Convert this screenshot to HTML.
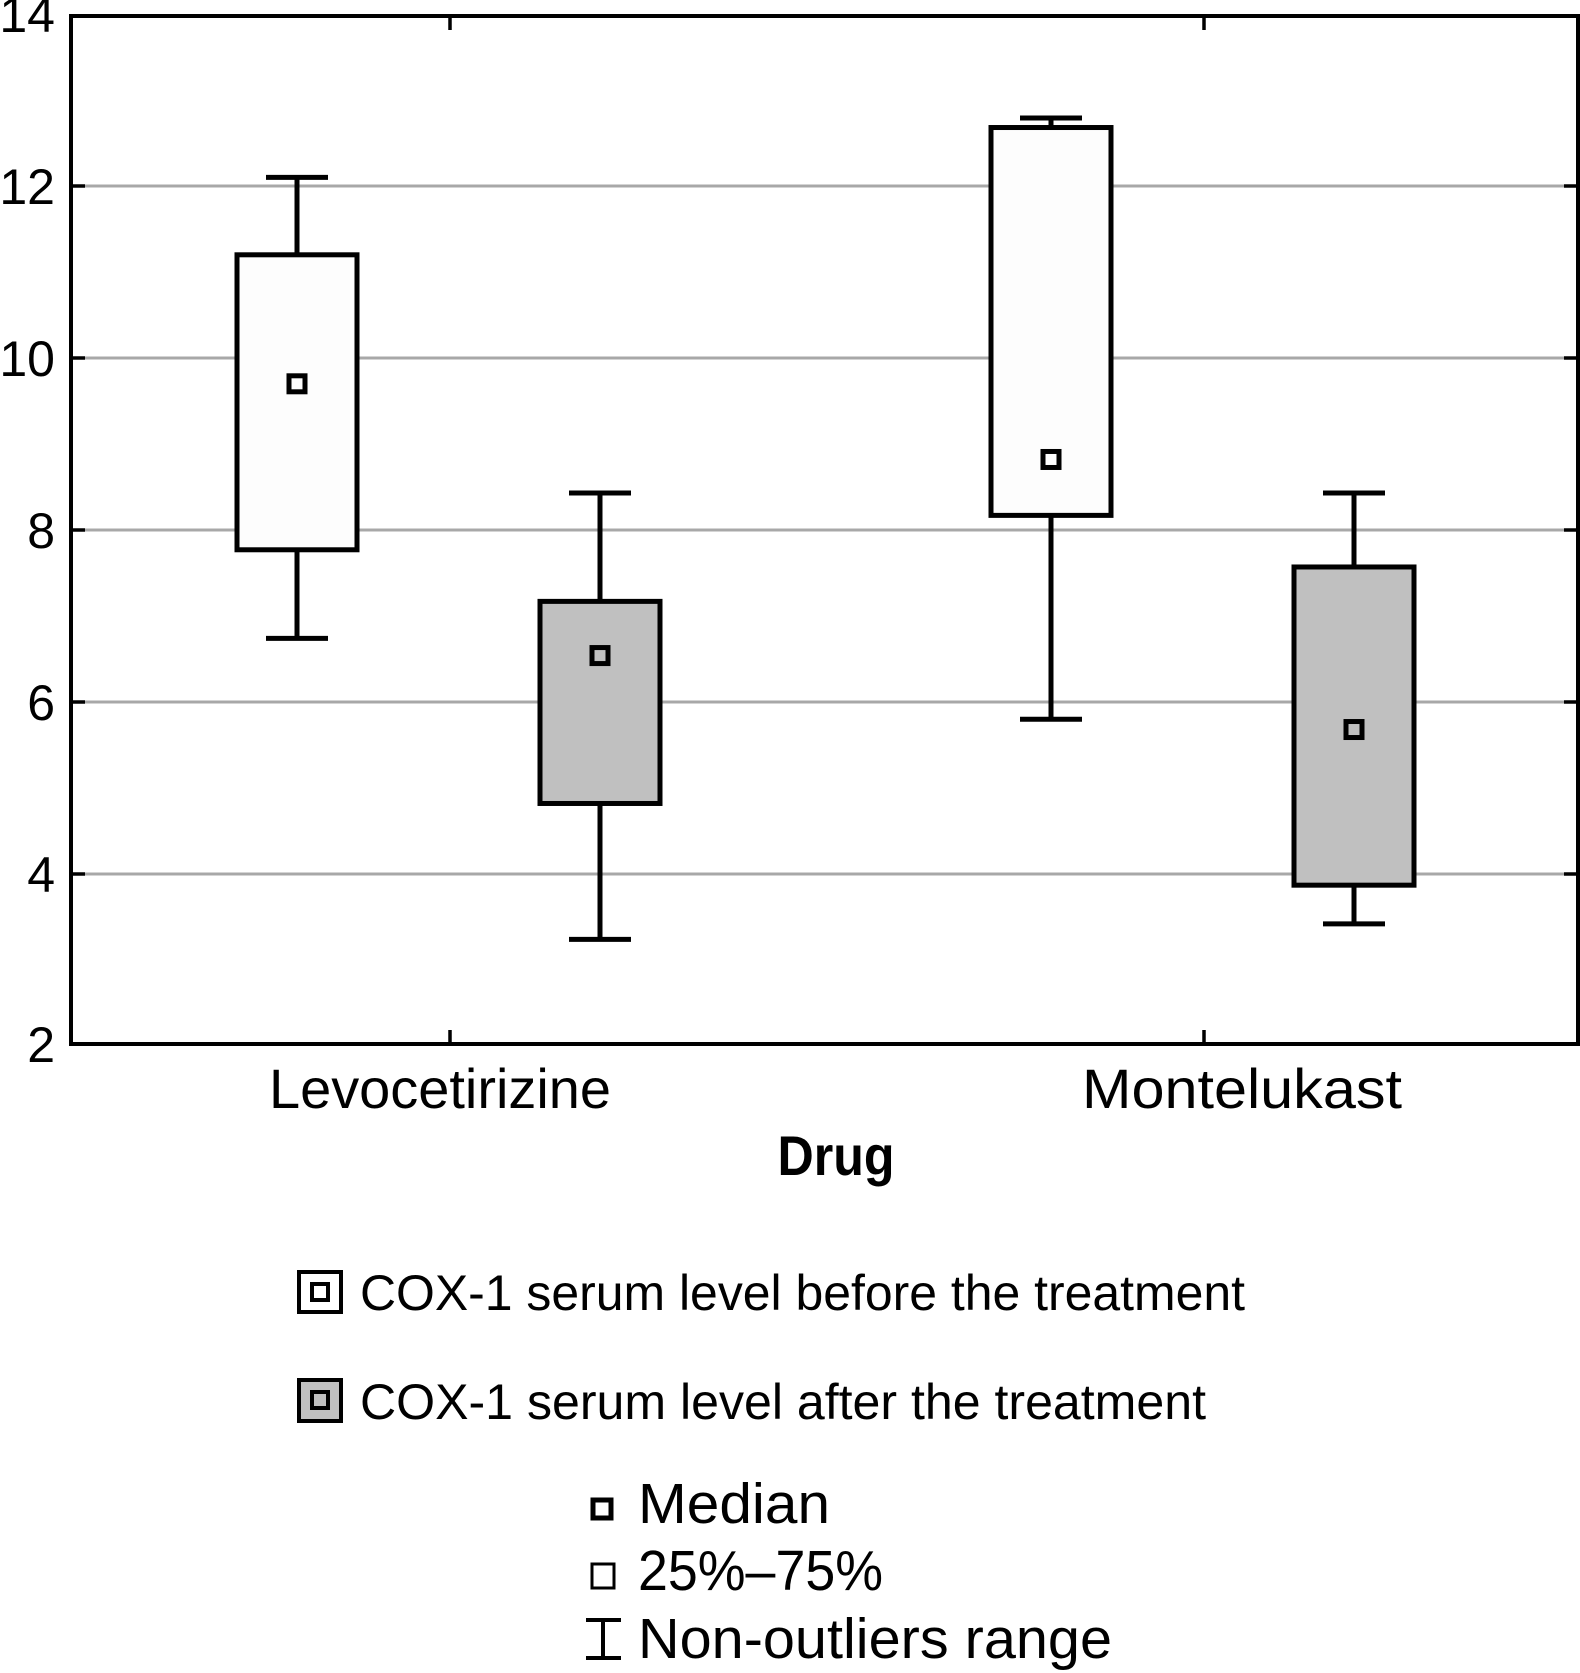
<!DOCTYPE html>
<html><head><meta charset="utf-8"><style>
html,body{margin:0;padding:0;background:#fff}
svg{display:block}
text{font-family:"Liberation Sans",sans-serif;fill:#000}
</style></head><body>
<svg id="chart" width="1580" height="1673" viewBox="0 0 1580 1673" xmlns="http://www.w3.org/2000/svg">
<g id="grid"></g>
<g id="plot"></g>
<g id="axes"></g>
<g id="legend">
  <g>
    <rect x="299" y="1272" width="42" height="40" fill="#fff" stroke="#000" stroke-width="4"/>
    <rect x="312" y="1284" width="16" height="16" fill="#fff" stroke="#000" stroke-width="4"/>
    <text x="360" y="1310" font-size="50" textLength="885" lengthAdjust="spacingAndGlyphs">COX-1 serum level before the treatment</text>
  </g>
  <g>
    <rect x="299" y="1380" width="42" height="41" fill="#c0c0c0" stroke="#000" stroke-width="4"/>
    <rect x="312" y="1392" width="16" height="16" fill="#c0c0c0" stroke="#000" stroke-width="4"/>
    <text x="360" y="1419" font-size="50" textLength="846" lengthAdjust="spacingAndGlyphs">COX-1 serum level after the treatment</text>
  </g>
  <g>
    <rect x="593" y="1500" width="18" height="18" fill="#fff" stroke="#000" stroke-width="5"/>
    <text x="638" y="1523" font-size="57" textLength="192" lengthAdjust="spacingAndGlyphs">Median</text>
  </g>
  <g>
    <rect x="592" y="1564" width="22" height="24" fill="#fff" stroke="#000" stroke-width="3"/>
    <text x="638" y="1590" font-size="57" textLength="245" lengthAdjust="spacingAndGlyphs">25%–75%</text>
  </g>
  <g>
    <line x1="586" y1="1620" x2="621" y2="1620" stroke="#000" stroke-width="4"/>
    <line x1="603" y1="1620" x2="603" y2="1658" stroke="#000" stroke-width="4"/>
    <line x1="586" y1="1658" x2="621" y2="1658" stroke="#000" stroke-width="4"/>
    <text x="638" y="1658" font-size="57" textLength="474" lengthAdjust="spacingAndGlyphs">Non-outliers range</text>
  </g>
</g>
</svg>
<script>
const categories = ["Levocetirizine", "Montelukast"];
const seriesNames = ["before", "after"];
const whiskerLow  = [[6.74, 3.24], [5.80, 3.42]];
const q1          = [[7.77, 4.82], [8.17, 3.87]];
const median      = [[9.70, 6.54], [8.82, 5.68]];
const q3          = [[11.20, 7.17], [12.68, 7.57]];
const whiskerHigh = [[12.10, 8.43], [12.79, 8.43]];
const yTicks = [2, 4, 6, 8, 10, 12, 14];

const NS = "http://www.w3.org/2000/svg";
const L = 71, R = 1578, T = 16, B = 1044;
const yMin = 2, yMax = 14;
function y(v){ return 186 + (12 - v) * 86; }
const catCenters = [450, 1204];
function xBox(ci, si){ return catCenters[ci] + (si === 0 ? -153 : 150); }
const fills = ["#fdfdfd", "#c0c0c0"];

function el(tag, attrs, parent){
  const e = document.createElementNS(NS, tag);
  for (const k in attrs) e.setAttribute(k, attrs[k]);
  parent.appendChild(e);
  return e;
}
const grid = document.getElementById('grid');
const plot = document.getElementById('plot');
const axes = document.getElementById('axes');

yTicks.forEach(t => {
  const py = y(t);
  if (t > yMin && t < yMax) {
    const g = el('line', {x1: L, x2: R, y1: py, y2: py, stroke: '#a8a8a8', 'stroke-width': 3}, grid);
    
    
    el('line', {x1: L, x2: L + 14, y1: py, y2: py, stroke: '#000', 'stroke-width': 3.5}, axes);
    el('line', {x1: R - 14, x2: R, y1: py, y2: py, stroke: '#000', 'stroke-width': 3.5}, axes);
  }
  const lab = el('text', {x: 55, y: Math.min(Math.max(py + 18, 32), 1062), 'font-size': 50, 'text-anchor': 'end'}, axes);
  lab.textContent = t;
  
  
});

categories.forEach((c, ci) => {
  seriesNames.forEach((s, si) => {
    const cx = xBox(ci, si);
    const g = el('g', {}, plot);
    
    
    const st = {stroke: '#000', 'stroke-width': 5};
    el('line', Object.assign({x1: cx, x2: cx, y1: y(whiskerHigh[ci][si]), y2: y(q3[ci][si])}, st), g);
    el('line', Object.assign({x1: cx, x2: cx, y1: y(q1[ci][si]), y2: y(whiskerLow[ci][si])}, st), g);
    el('line', Object.assign({x1: cx - 31, x2: cx + 31, y1: y(whiskerHigh[ci][si]), y2: y(whiskerHigh[ci][si])}, st), g);
    el('line', Object.assign({x1: cx - 31, x2: cx + 31, y1: y(whiskerLow[ci][si]), y2: y(whiskerLow[ci][si])}, st), g);
    el('rect', Object.assign({x: cx - 60, width: 120, y: y(q3[ci][si]), height: y(q1[ci][si]) - y(q3[ci][si]), fill: fills[si]}, st), g);
    const m = el('rect', {x: cx - 8, y: y(median[ci][si]) - 8, width: 16, height: 16, fill: fills[si], stroke: '#000', 'stroke-width': 5}, g);
    
    
  });
  const px = catCenters[ci];
  el('line', {x1: px, x2: px, y1: B - 14, y2: B, stroke: '#000', 'stroke-width': 3.5}, axes);
  el('line', {x1: px, x2: px, y1: T, y2: T + 14, stroke: '#000', 'stroke-width': 3.5}, axes);
  const lab = el('text', {x: px - 10 + (ci === 1 ? 48 : 0), y: 1108, 'font-size': 56, 'text-anchor': 'middle', textLength: ci === 0 ? 342 : 320, lengthAdjust: 'spacingAndGlyphs'}, axes);
  lab.textContent = c;
  
  
});

const frame = el('rect', {x: L, y: T, width: R - L, height: B - T, fill: 'none', stroke: '#000', 'stroke-width': 4}, axes);


const xt = el('text', {x: 836, y: 1175, 'font-size': 56, 'font-weight': 'bold', 'text-anchor': 'middle', textLength: 117, lengthAdjust: 'spacingAndGlyphs'}, axes);
xt.textContent = 'Drug';


</script>
</body></html>
